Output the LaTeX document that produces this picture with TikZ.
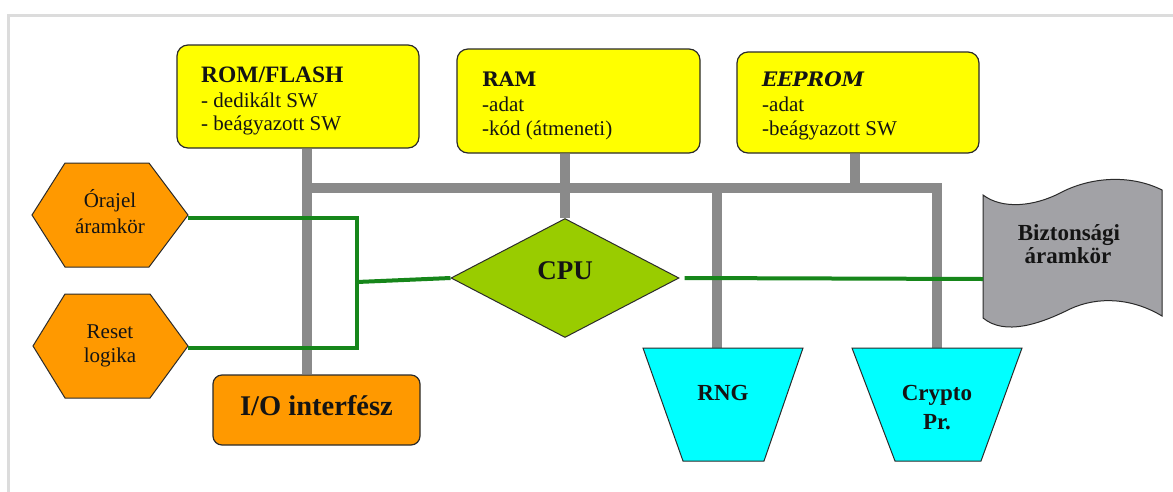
\documentclass[tikz,border=0pt]{standalone}
\usepackage{fontspec}
\setmainfont{Liberation Serif}
\newfontfamily\slab{DejaVu Serif}
\usetikzlibrary{shapes.geometric,backgrounds}
\definecolor{memyellow}{HTML}{FFFF00}
\definecolor{orng}{HTML}{FF9900}
\definecolor{cpugreen}{HTML}{99CC00}
\definecolor{siggreen}{HTML}{16861A}
\definecolor{busgray}{HTML}{8A8A8A}
\definecolor{cyanfill}{HTML}{00FFFF}
\definecolor{tapegray}{HTML}{A2A2A6}
\definecolor{framegray}{HTML}{DCDCDC}
\definecolor{edge}{HTML}{2B2B2B}
\definecolor{ink}{HTML}{141414}
\begin{document}
\begin{tikzpicture}[x=1pt,y=-1pt,
  membox/.style={draw=edge,line width=1.2pt,fill=memyellow,rounded corners=11pt,inner sep=0pt},
  iobox/.style={draw=edge,line width=1.2pt,fill=orng,rounded corners=9pt,inner sep=0pt},
  outline/.style={draw=edge,line width=1pt},
  bus/.style={draw=busgray,line width=10pt},
  sig/.style={draw=siggreen,line width=4pt},
  txt/.style={inner sep=0pt,text=ink},
  lefttxt/.style={txt,anchor=base west},
  midtxt/.style={txt,anchor=base},
  bodyfont/.style={font=\fontsize{21}{23}\selectfont},
  boldfont/.style={font=\bfseries\fontsize{23}{26}\selectfont},
  slabfont/.style={font=\slab\bfseries\fontsize{20}{23}\selectfont},
  slabitfont/.style={font=\slab\bfseries\itshape\fontsize{20}{23}\selectfont},
]
\useasboundingbox (0,0) rectangle (1173,491);

% memory boxes
\node[membox,minimum width=242pt,minimum height=103pt] (rom) at (298,96.5) {};
\node[membox,minimum width=243pt,minimum height=104pt] (ram) at (578.5,101) {};
\node[membox,minimum width=242pt,minimum height=101pt] (eeprom) at (858,102.5) {};
\node[lefttxt,font=\bfseries\fontsize{23.5}{26}\selectfont] (romt1) at (201,82) {ROM/FLASH};
\node[lefttxt,bodyfont] (romt2) at (201,107) {- dedikált SW};
\node[lefttxt,bodyfont] (romt3) at (201,130) {- beágyazott SW};
\node[lefttxt,slabfont] (ramt1) at (482,86) {RAM};
\node[lefttxt,bodyfont] (ramt2) at (482,111) {-adat};
\node[lefttxt,bodyfont] (ramt3) at (482,135) {-kód (átmeneti)};
\node[lefttxt,slabitfont] (eet1) at (762,86) {EEPROM};
\node[lefttxt,bodyfont] (eet2) at (762,111) {-adat};
\node[lefttxt,bodyfont] (eet3) at (762,135) {-beágyazott SW};

% I/O
\node[iobox,minimum width=207pt,minimum height=70pt] (io) at (316.5,410) {};
\node[midtxt,font=\bfseries\fontsize{28.5}{30}\selectfont] (iot) at (316.5,415) {I/O interfész};

% hexagons
\draw[outline,fill=orng] (32,215) -- (65,163) -- (149,163) -- (188,215) -- (149,267) -- (65,267) -- cycle;
\coordinate (oraE) at (188,218);
\node[midtxt,bodyfont] (ora1) at (110,207) {Órajel};
\node[midtxt,bodyfont] (ora2) at (110,233) {áramkör};
\draw[outline,fill=orng] (33,346) -- (65,294) -- (150,294) -- (188,346) -- (150,398) -- (65,398) -- cycle;
\coordinate (resE) at (188,348);
\node[midtxt,bodyfont] (res1) at (110,338) {Reset};
\node[midtxt,bodyfont] (res2) at (110,362) {logika};

% CPU
\node[diamond,outline,fill=cpugreen,minimum width=228pt,minimum height=119pt,inner sep=0pt] (cpu) at (565,278) {};
\node[midtxt,font=\bfseries\fontsize{27}{30}\selectfont] (cput) at (565,279) {CPU};

% RNG / Crypto
\draw[outline,fill=cyanfill] (643,348) -- (803,348) -- (764,461) -- (683,461) -- cycle;
\coordinate (rngN) at (717,348);
\node[midtxt,boldfont] (rngt) at (723,400) {RNG};
\draw[outline,fill=cyanfill] (852,348) -- (1022,348) -- (981,461) -- (895,461) -- cycle;
\coordinate (cryN) at (937,348);
\node[midtxt,boldfont] (cryt1) at (937,400) {Crypto};
\node[midtxt,boldfont] (cryt2) at (937,429) {Pr.};

% Biztonsagi aramkor (punched tape)
\draw[outline,fill=tapegray] (983,195)
  .. controls (1003,210) and (1035,206) .. (1060,193)
  .. controls (1090,177) and (1130,174) .. (1162,190)
  -- (1162,316)
  .. controls (1132,298) and (1098,296) .. (1070,309)
  .. controls (1040,324) and (1005,336) .. (983,318)
  -- cycle;
\coordinate (biztW) at (983,279);
\node[midtxt,boldfont] (bizt1) at (1069,240) {Biztonsági};
\node[midtxt,boldfont] (bizt2) at (1068,263) {áramkör};

% green signal lines
\coordinate (jBot) at (357,348);
\coordinate (jMid) at (357,282);
\draw[sig] (oraE) -| (jBot) -- (resE);
\draw[sig] (jMid) -- (cpu.west);
\draw[sig] ([xshift=5pt]cpu.east) -- (biztW);

% background: frame and bus
\begin{scope}[on background layer]
  \fill[white] (0,0) rectangle (1173,491);
  \draw[framegray,line width=3pt] (8,500) -- (8,15) -- (1180,15);
  \coordinate (busL) at (307,188);
  \coordinate (busR) at (937,188);
  \coordinate (eeB) at (855,188);
  \draw[bus] (busL |- rom.south) -- (busL |- io.north);
  \draw[bus] ([xshift=-5pt]busL) -- ([xshift=5pt]busR);
  \draw[bus] (cpu.north |- ram.south) -- (cpu.north);
  \draw[bus] (eeB |- eeprom.south) -- (eeB);
  \draw[bus] (rngN |- busL) -- (rngN);
  \draw[bus] ([yshift=-5pt]busR) -- (cryN);
\end{scope}
\end{tikzpicture}
\end{document}
